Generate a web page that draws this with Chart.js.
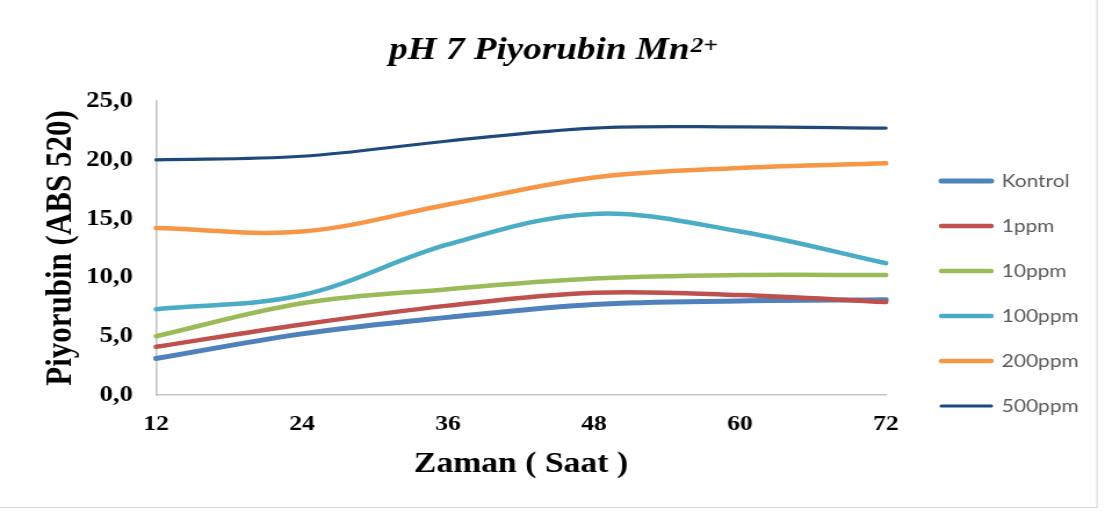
<!DOCTYPE html>
<html>
<head>
<meta charset="utf-8">
<title>pH 7 Piyorubin Mn2+</title>
<script src="https://cdn.jsdelivr.net/npm/chart.js@4.4.1/dist/chart.umd.min.js"></script>
<style>
  html, body { margin: 0; padding: 0; background: #ffffff; overflow: hidden; }
  #stage { width: 952px; height: 514px; transform: scaleX(1.16071); transform-origin: 0 0; }
  #chart { display: block; }
</style>
</head>
<body>
<div id="stage"><canvas id="chart" width="952" height="514"></canvas></div>
<script>
// Sampling times (hours) and absorbance readings at 520 nm
const hours = ['12', '24', '36', '48', '60', '72'];
const kontrol = [3.1, 5.2, 6.6, 7.7, 8.0, 8.1];
const ppm1    = [4.1, 6.0, 7.6, 8.7, 8.5, 7.9];
const ppm10   = [5.0, 7.8, 9.0, 9.9, 10.2, 10.2];
const ppm100  = [7.3, 8.5, 12.8, 15.4, 13.9, 11.2];
const ppm200  = [14.2, 13.9, 16.2, 18.5, 19.3, 19.7];
const ppm500  = [20.0, 20.3, 21.6, 22.7, 22.8, 22.7];
const seriesNames = ['Kontrol', '1ppm', '10ppm', '100ppm', '200ppm', '500ppm'];
const yTicks = [0, 5, 10, 15, 20, 25];

const seriesValues = [kontrol, ppm1, ppm10, ppm100, ppm200, ppm500];
const seriesColors = ['#4F81BD', '#C0504D', '#9BBB59', '#4BACC6', '#F79646', '#1F497D'];
const seriesWidths = [5, 4.5, 4.5, 4.5, 4.5, 3.2];

const SERIF = '"Liberation Serif", "Times New Roman", serif';
const LEGEND_FONT = { family: 'Lato, "Open Sans", sans-serif', size: 18 };
const LEGEND_PAD = 27;
const LEGEND_LINE = 43;
const CANVAS_W = 952;
const PLOT_RIGHT = 763.3;
const PLOT_GAP = 20.7;

// Width the legend will ask for, so the plot's right edge stays fixed
function legendWidth() {
  const c = document.createElement('canvas').getContext('2d');
  c.font = LEGEND_FONT.size + 'px ' + LEGEND_FONT.family;
  const widest = Math.max(...seriesNames.map(n => c.measureText(n).width));
  return LEGEND_PAD + LEGEND_LINE + LEGEND_FONT.size / 2 + widest + 10;
}
const rightPad = Math.max(0, CANVAS_W - PLOT_RIGHT - PLOT_GAP - legendWidth());

// Title with a raised "2+" charge on Mn
const titlePlugin = {
  id: 'chargeTitle',
  afterDraw(chart) {
    const ctx = chart.ctx;
    const main = 'pH 7 Piyorubin Mn';
    const sup = '2+';
    ctx.save();
    ctx.fillStyle = '#000000';
    ctx.textBaseline = 'alphabetic';
    ctx.textAlign = 'left';
    ctx.font = 'italic bold 32px ' + SERIF;
    const w1 = ctx.measureText(main).width;
    ctx.font = 'italic bold 22px ' + SERIF;
    const w2 = ctx.measureText(sup).width;
    const x0 = 476.4 - (w1 + w2) / 2;
    ctx.font = 'italic bold 32px ' + SERIF;
    ctx.fillText(main, x0, 59);
    ctx.font = 'italic bold 22px ' + SERIF;
    ctx.fillText(sup, x0 + w1 + 1, 52);
    ctx.restore();
  }
};

// White background and the thin outer frame
const framePlugin = {
  id: 'frame',
  beforeDraw(chart) {
    const ctx = chart.ctx;
    ctx.save();
    ctx.fillStyle = '#ffffff';
    ctx.fillRect(0, 0, chart.width, chart.height);
    ctx.strokeStyle = '#d4d4d4';
    ctx.lineWidth = 1;
    ctx.beginPath();
    ctx.moveTo(945.2, 0);
    ctx.lineTo(945.2, 507.5);
    ctx.lineTo(0, 507.5);
    ctx.stroke();
    ctx.restore();
  }
};

const datasets = seriesValues.map((vals, i) => ({
  label: seriesNames[i],
  data: vals,
  borderColor: seriesColors[i],
  backgroundColor: seriesColors[i],
  borderWidth: seriesWidths[i],
  borderCapStyle: 'round',
  borderJoinStyle: 'round',
  pointRadius: 0,
  pointHoverRadius: 0,
  tension: 0.36,
  fill: false,
  order: -i
}));

new Chart(document.getElementById('chart'), {
  type: 'line',
  data: { labels: hours, datasets },
  plugins: [framePlugin, titlePlugin],
  options: {
    responsive: false,
    animation: false,
    events: [],
    layout: { padding: { top: 101, left: 0, right: rightPad, bottom: 28 } },
    plugins: {
      title: { display: false },
      tooltip: { enabled: false },
      legend: {
        display: true,
        position: 'right',
        align: 'center',
        labels: {
          usePointStyle: true,
          pointStyleWidth: LEGEND_LINE,
          padding: LEGEND_PAD,
          color: '#595959',
          font: LEGEND_FONT,
          generateLabels(chart) {
            return chart.data.datasets.map((ds, i) => ({
              text: ds.label,
              datasetIndex: i,
              fillStyle: ds.borderColor,
              strokeStyle: ds.borderColor,
              lineWidth: ds.borderWidth,
              lineCap: 'round',
              pointStyle: 'line',
              hidden: false,
              fontColor: '#595959'
            }));
          }
        }
      }
    },
    scales: {
      x: {
        type: 'category',
        offset: false,
        grid: { display: false, drawTicks: false },
        border: { display: true, color: '#c4c4c4', width: 1.6 },
        ticks: {
          color: '#000000',
          padding: 16,
          maxRotation: 0,
          font: { family: SERIF, weight: 'bold', size: 22 }
        },
        title: {
          display: true,
          text: 'Zaman ( Saat )',
          color: '#000000',
          padding: { top: 0, bottom: 4 },
          font: { family: SERIF, weight: 'bold', size: 29 }
        },
        afterFit(scale) { scale.height = 91; }
      },
      y: {
        min: 0,
        max: 25,
        afterBuildTicks(scale) { scale.ticks = yTicks.map(v => ({ value: v })); },
        grid: { display: false, drawTicks: false },
        border: { display: true, color: '#c4c4c4', width: 1.6 },
        ticks: {
          color: '#000000',
          padding: 20,
          font: { family: SERIF, weight: 'bold', size: 23 },
          callback: v => Number(v).toFixed(1).replace('.', ',')
        },
        title: {
          display: true,
          text: 'Piyorubin (ABS 520)',
          color: '#000000',
          padding: { top: 34.8, bottom: 0 },
          font: { family: SERIF, weight: 'bold', size: 31 }
        },
        afterFit(scale) { scale.width = 134.4; }
      },
      gap: {
        type: 'linear',
        position: 'right',
        display: true,
        grid: { display: false, drawTicks: false },
        border: { display: false },
        ticks: { display: false },
        afterFit(scale) { scale.width = PLOT_GAP; }
      }
    }
  }
});
</script>
</body>
</html>
